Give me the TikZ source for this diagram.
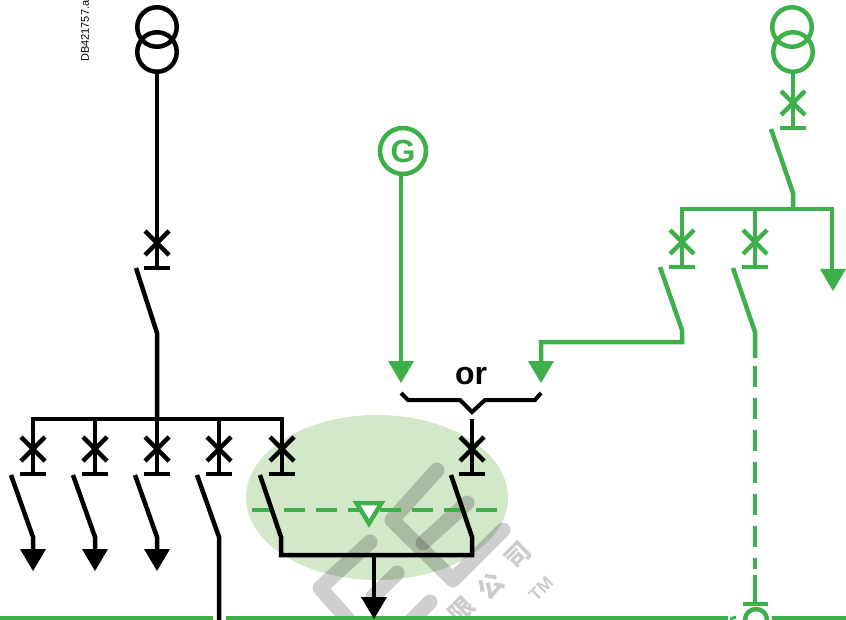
\documentclass[tikz,border=0pt]{standalone}
\usepackage{fontspec}
\setmainfont{Liberation Sans}
\newfontfamily\cjk{Noto Sans CJK SC}
\usetikzlibrary{calc}
\definecolor{schgreen}{HTML}{3DB04A}
\definecolor{zonegreen}{HTML}{D3E7C9}
\tikzset{
  wire/.style={line width=4.5pt},
  head/.style={fill,draw=none},
  breaker/.pic={
    \draw[wire] (-12,-12) -- (12,12);
    \draw[wire] (-12,12) -- (12,-12);
    \draw[wire] (-13,25) -- (13,25);
  },
  winding/.style={draw,circle,line width=4.5pt,minimum size=39.5pt,inner sep=0pt},
  stamp/.style={line width=15pt,line cap=round,line join=round,black,opacity=0.19},
  stamptext/.style={black,opacity=0.2,rotate=45,inner sep=0pt}
}
\newcommand{\arrowtip}[1]{\fill[head] ($(#1)+(-13,0)$) -- ($(#1)+(13,0)$) -- ($(#1)+(0,22)$) -- cycle;}
\begin{document}
\begin{tikzpicture}[x=1pt,y=-1pt]
    \useasboundingbox (0,0) rectangle (846,620);
    \clip (0,0) rectangle (846,620);

    \fill[zonegreen] (377,497.5) ellipse [x radius=131, y radius=82.5];

    % stamp
    \draw[stamp] (437,470) -- (392,520) -- (453,580) -- (503,530);
    \draw[stamp] (467,503) -- (423,543);
    \draw[stamp] (370,542) -- (320,588) -- (353,625);
    \draw[stamp] (397,573) -- (373,597);
    \draw[stamp] (430,602) -- (410,622);
    \node[stamptext,font=\cjk\bfseries\fontsize{25}{25}\selectfont] at (518,555) (st1) {司};
    \node[stamptext,font=\cjk\bfseries\fontsize{25}{25}\selectfont] at (491,586) (st2) {公};
    \node[stamptext,font=\cjk\bfseries\fontsize{25}{25}\selectfont] at (462,610) (st3) {限};
    \node[stamptext,font=\bfseries\fontsize{18}{18}\selectfont] at (541,589) (st4) {TM};

    % left incomer
    \node[winding] at (157,27) (t1a) {};
    \node[winding] at (157,52) (t1b) {};
    \coordinate (b1) at (157,268);
    \coordinate (s1) at (136,268);
    \coordinate (k1) at (157,333);
    \coordinate (busl) at (33,419);
    \coordinate (busr) at (282,419);
    \coordinate (busm) at (157,419);
    \draw[wire] (t1b) -- (b1);
    \pic at (157,243) {breaker};
    \draw[wire,line join=round] (s1) -- (k1) -- (busm);
    \draw[wire] (busl) -- (busr);

    % feeders
    \foreach \x/\name in {33/a,95/b,157/c,219/d,282/e} {
      \coordinate (u\name) at (\x,417);
      \coordinate (v\name) at (\x,474);
      \pic at (\x,449) {breaker};
      \draw[wire] (u\name) -- (v\name);
    }
    \foreach \x/\name in {33/a,95/b,157/c} {
      \coordinate (s\name) at (\x-22,475);
      \coordinate (f\name) at (\x,537);
      \coordinate (g\name) at (\x,550);
      \draw[wire] (s\name) -- (f\name) -- (g\name);
      \arrowtip{\x,549}
    }

    % main bus
    \coordinate (m0) at (0,618);
    \coordinate (m1) at (213,618);
    \coordinate (m2) at (226,618);
    \coordinate (m3) at (728,618);
    \coordinate (m4) at (772,618);
    \coordinate (m5) at (846,618);
    \coordinate (sd) at (197,475);
    \coordinate (kd) at (219,537);
    \coordinate (ed) at (219,620);
    \draw[wire,schgreen] (m0) -- (m1);
    \draw[wire,schgreen] (m2) -- (m3);
    \draw[wire,schgreen] (m4) -- (m5);
    \draw[schgreen,line width=3pt] (730,619) -- (736,617);
    \draw[wire] (sd) -- (kd) -- (ed);

    % generator
    \node[draw=schgreen,text=schgreen,circle,line width=4.5pt,minimum size=46pt,inner sep=0pt,font=\bfseries\fontsize{32}{32}\selectfont] at (403,151) (gen) {G};
    \coordinate (g1) at (401,363);
    \draw[wire,schgreen] (gen.south -| g1) -- (g1);
    {\color{schgreen}\arrowtip{401,361}}

    % right incomer
    \begin{scope}[color=schgreen]
    \node[winding] at (792,27) (t2a) {};
    \node[winding] at (793,52) (t2b) {};
    \coordinate (b2) at (793,128);
    \coordinate (s2) at (771,129);
    \coordinate (k2) at (793,193);
    \coordinate (n2) at (793,209);
    \coordinate (q3) at (682,267);
    \coordinate (q4) at (755,267);
    \coordinate (r1) at (832,270);
    \coordinate (r2) at (755,209);
    \draw[wire] (t2b) -- (b2);
    \pic at (793,103) {breaker};
    \draw[wire] (s2) -- (k2) -- (n2);
    \draw[wire] (q3) |- (n2 -| r1) -- (r1);
    \draw[wire] (r2) -- (q4);
    \arrowtip{833,269}
    \pic at (682,242) {breaker};
    \pic at (755,242) {breaker};
    \coordinate (s3) at (660,267);
    \coordinate (k3) at (682,330);
    \coordinate (c3) at (682,342);
    \coordinate (c4) at (541,342);
    \coordinate (e3) at (541,363);
    \draw[wire] (s3) -- (k3) -- (c3) -- (c4) -- (e3);
    \arrowtip{541,361}
    \coordinate (s4) at (733,268);
    \coordinate (k4) at (755,332);
    \coordinate (d0) at (755,358);
    \coordinate (d3) at (755,366);
    \coordinate (d4) at (755,569);
    \coordinate (d1) at (755,575);
    \coordinate (d2) at (755,604);
    \draw[wire] (s4) -- (k4) -- (d0);
    \draw[wire,dash pattern=on 21pt off 11pt] (d3) -- (d4);
    \draw[wire] (d1) -- (d2);
    \draw[wire] (743,604) -- (768,604);
    \draw[wire] (756,620) circle [radius=11];
    \end{scope}

    % source choice
    \node[font=\bfseries\fontsize{32}{32}\selectfont] at (471,376) (or) {or};
    \draw[line width=4pt] (401,393) -- (408,400) -- (460,400) -- (472,412) -- (485,400) -- (535,400) -- (541,393);
    \coordinate (u5) at (472,419);
    \coordinate (v5) at (472,474);
    \draw[wire] (u5) -- (v5);
    \pic at (472,449) {breaker};

    % interlock
    \coordinate (l0) at (252,510);
    \coordinate (l1) at (497,510);
    \draw[wire,schgreen,dash pattern=on 21pt off 11pt] (l0) -- (l1);
    \draw[schgreen,fill=white,line width=4.5pt,line join=miter] (356.5,503) -- (381.5,503) -- (369,523.5) -- cycle;

    % transfer
    \coordinate (tl) at (281,555);
    \coordinate (tr) at (472,555);
    \coordinate (tm) at (374,555);
    \coordinate (te) at (374,598);
    \coordinate (sl) at (260,475);
    \coordinate (kl) at (281,537);
    \coordinate (sr) at (451,475);
    \coordinate (kr) at (472,537);
    \draw[wire] (sl) -- (kl) -- (tl) -- (tr) -- (kr) -- (sr);
    \draw[wire] (tm) -- (te);
    \arrowtip{374,597}

    % file mark
    \node[rotate=90,anchor=west,font=\fontsize{11}{11}\selectfont,inner sep=0pt] at (85,62) (ref) {DB421757.ai};
  \end{tikzpicture}
\end{document}
